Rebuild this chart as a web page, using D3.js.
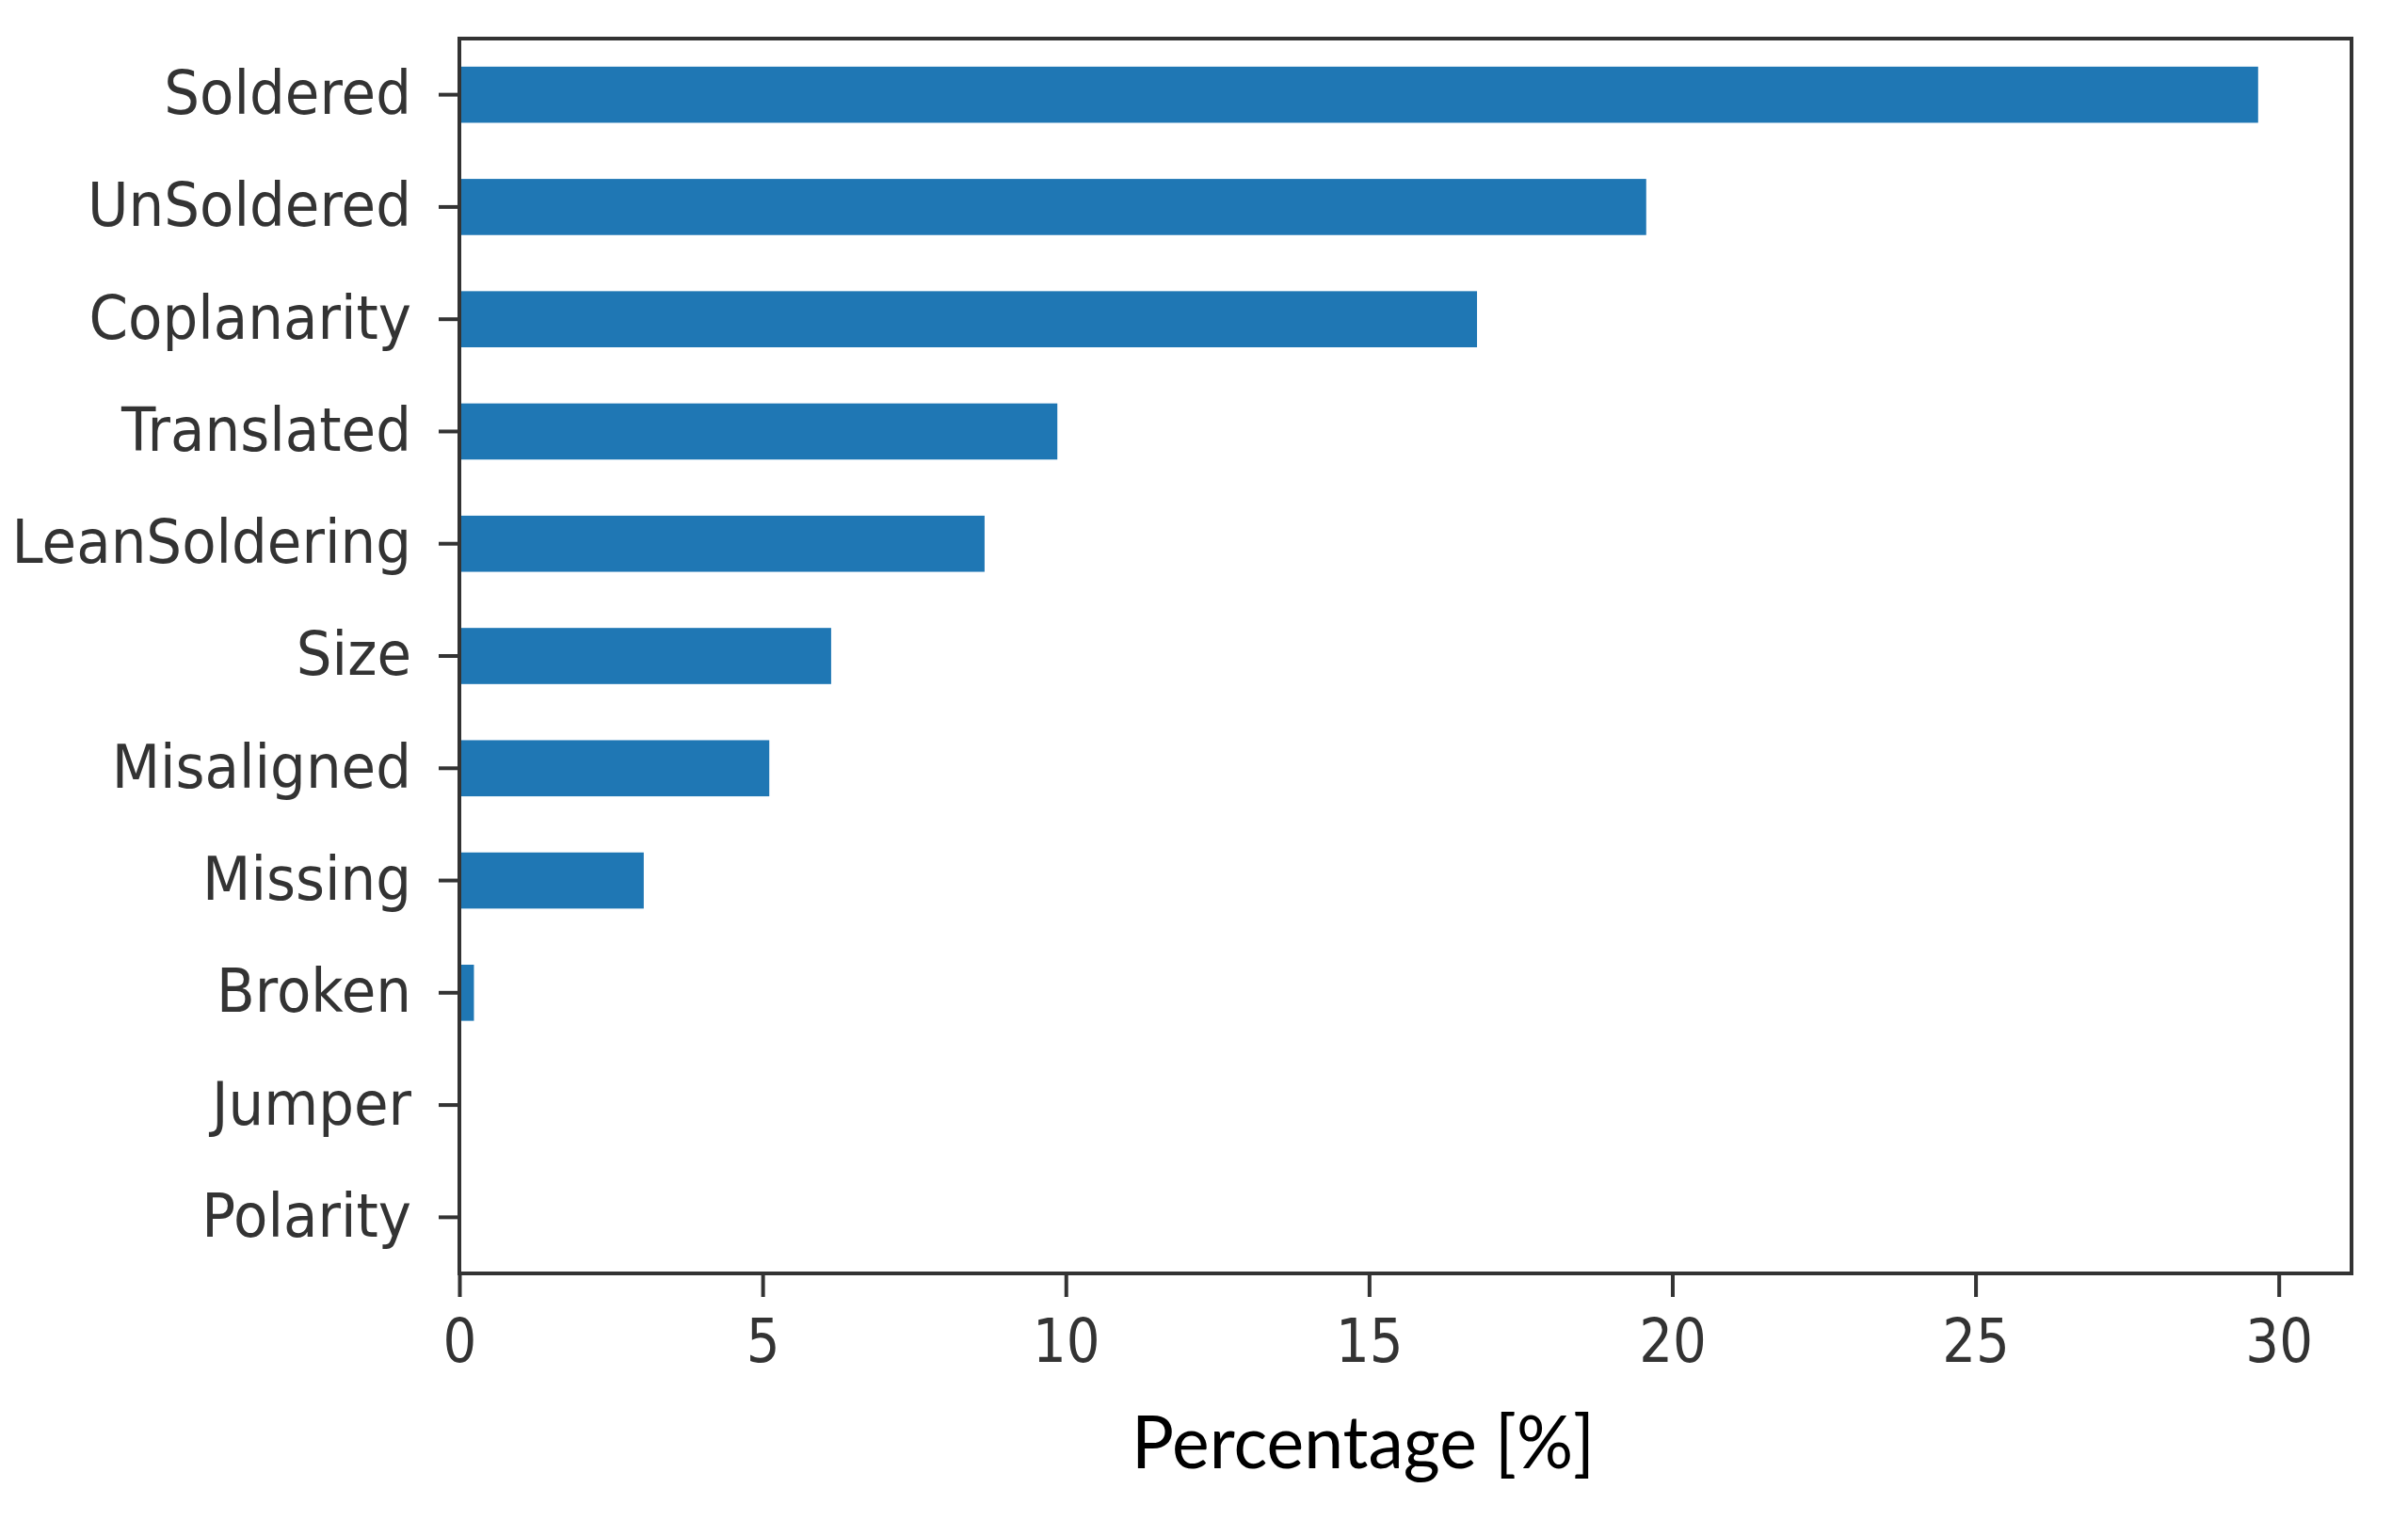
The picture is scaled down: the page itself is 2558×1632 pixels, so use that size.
<!DOCTYPE html>
<html>
<head>
<meta charset="utf-8">
<script src="https://cdn.jsdelivr.net/npm/d3@7"></script>
<style>
  html, body { margin: 0; padding: 0; background: #ffffff; }
  svg { display: block; }
</style>
</head>
<body>
<svg id="chart" width="2558" height="1632"></svg>
<script>
// ---- data ----
const categories = ["Soldered", "UnSoldered", "Coplanarity", "Translated", "LeanSoldering",
                    "Size", "Misaligned", "Missing", "Broken", "Jumper", "Polarity"];
const percentages = [29.66, 19.57, 16.78, 9.86, 8.66, 6.13, 5.11, 3.04, 0.24, 0.03, 0.0];
const xTickValues = [0, 5, 10, 15, 20, 25, 30];
const xAxisLabel = "Percentage [%]";
const xMax = 31.2;

// ---- layout ----
const plot = { left: 488, right: 2498, top: 41, bottom: 1353 };
const yTextScaleX = 0.93;
const xTextScaleX = 0.88;

const svg = d3.select("#chart");
svg.append("rect").attr("width", 2558).attr("height", 1632).attr("fill", "#ffffff");

const x = d3.scaleLinear().domain([0, xMax]).range([plot.left, plot.right]);
const y = d3.scaleBand().domain(categories).range([plot.top, plot.bottom])
  .paddingInner(0.5).paddingOuter(0.25);

// bars
svg.append("g").selectAll("rect")
  .data(categories.map((c, i) => ({ c, v: percentages[i] })))
  .join("rect")
  .attr("x", x(0))
  .attr("y", d => y(d.c))
  .attr("width", d => Math.max(0, x(d.v) - x(0)))
  .attr("height", y.bandwidth())
  .attr("fill", "#1f77b4");

// y axis
const yAxisG = svg.append("g")
  .attr("transform", `translate(${plot.left},0)`)
  .call(d3.axisLeft(y).tickSize(22).tickPadding(29));
yAxisG.select(".domain").remove();
yAxisG.selectAll(".tick line").attr("stroke", "#333").attr("stroke-width", 4);
yAxisG.selectAll(".tick text")
  .attr("font-family", "'DejaVu Sans', sans-serif")
  .attr("font-size", 64)
  .attr("fill", "#333")
  .attr("x", -51 / yTextScaleX)
  .attr("transform", `scale(${yTextScaleX},1)`);

// x axis
const xAxisG = svg.append("g")
  .attr("transform", `translate(0,${plot.bottom})`)
  .call(d3.axisBottom(x).tickValues(xTickValues).tickFormat(d3.format("d")).tickSize(25).tickPadding(24));
xAxisG.select(".domain").remove();
xAxisG.selectAll(".tick line").attr("stroke", "#333").attr("stroke-width", 4);
xAxisG.selectAll(".tick text")
  .attr("font-family", "'DejaVu Sans', sans-serif")
  .attr("font-size", 64)
  .attr("fill", "#333")
  .attr("x", 0)
  .attr("transform", `scale(${xTextScaleX},1)`);

// frame
svg.append("rect")
  .attr("x", plot.left).attr("y", plot.top)
  .attr("width", plot.right - plot.left).attr("height", plot.bottom - plot.top)
  .attr("fill", "none").attr("stroke", "#333").attr("stroke-width", 4);

// x label
svg.append("text")
  .attr("x", 1448).attr("y", 1560)
  .attr("text-anchor", "middle")
  .attr("font-family", "Lato, 'Open Sans', sans-serif")
  .attr("font-size", 78)
  .attr("fill", "#000")
  .attr("textLength", 492)
  .attr("lengthAdjust", "spacingAndGlyphs")
  .text(xAxisLabel);
</script>
</body>
</html>
